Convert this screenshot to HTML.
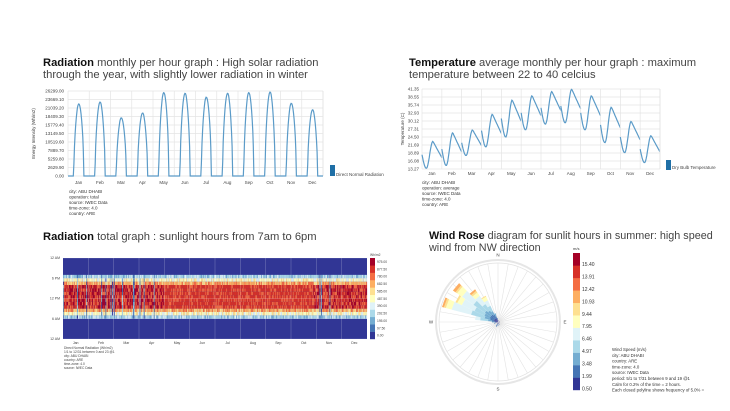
<!DOCTYPE html><html><head><meta charset="utf-8"><style>
body{margin:0;background:#fff;width:730px;height:411px;overflow:hidden;font-family:"Liberation Sans",sans-serif}
.t{position:absolute;font-size:11.2px;color:#444;line-height:12px;white-space:nowrap}
.t b{color:#111}
</style></head><body>
<div class="t" style="left:43px;top:57px"><b>Radiation</b> monthly per hour graph : High solar radiation<br>through the year, with slightly lower radiation in winter</div>
<div class="t" style="left:409px;top:57px"><b>Temperature</b> average monthly per hour graph : maximum<br>temperature between 22 to 40 celcius</div>
<div class="t" style="left:43px;top:231px"><b>Radiation</b> total graph : sunlight hours from 7am to 6pm</div>
<div class="t" style="left:429px;top:230px;font-size:10.8px"><b>Wind Rose</b> diagram for sunlit hours in summer: high speed<br>wind from NW direction</div>
<svg id="s" width="730" height="411" style="position:absolute;left:0;top:0" font-family="Liberation Sans, sans-serif"></svg>
<script>
const S=document.getElementById('s');let h='';
const M=['Jan','Feb','Mar','Apr','May','Jun','Jul','Aug','Sep','Oct','Nov','Dec'];
{const x0=68,x1=323,y0=91,y1=176;const labs=['26299.00','23669.10','21039.20','18409.30','15779.40','13149.50','10519.60','7889.70','5259.80','2629.90','0.00'];
for(let i=0;i<=10;i++){const y=y0+(y1-y0)*i/10;h+=`<line x1="${x0}" x2="${x1}" y1="${y}" y2="${y}" stroke="#e4e4e4" stroke-width="0.7"/><text x="${x0-4}" y="${y+1.5}" font-size="4.5" text-anchor="end" fill="#444">${labs[i]}</text>`;}
const w=(x1-x0)/12;const pk=[22.3,22.9,18,19.5,25.8,25.6,24.4,25.6,25.8,26,22.5,20.5];let d='';
for(let m=0;m<12;m++){const a=x0+m*w;h+=`<line x1="${a}" x2="${a}" y1="${y0}" y2="${y1}" stroke="#e4e4e4" stroke-width="0.7"/><text x="${a+w/2}" y="${y1+8}" font-size="4.5" text-anchor="middle" fill="#444">${M[m]}</text>`;
for(let k=0;k<=36;k++){const t=k/36;let v=0;if(t>0.27&&t<0.75){v=Math.pow(Math.sin(Math.PI*(t-0.27)/0.48),0.6)}const y=y1-(y1-y0)*v*pk[m]/26.3;d+=(d?'L':'M')+(a+t*w).toFixed(1)+','+y.toFixed(1);}}
h+=`<line x1="${x1}" x2="${x1}" y1="${y0}" y2="${y1}" stroke="#e4e4e4"/><path d="${d}" fill="none" stroke="#5b9bc8" stroke-width="1.2"/>`;
h+=`<text transform="translate(35,${(y0+y1)/2}) rotate(-90)" font-size="4.5" text-anchor="middle" fill="#444">Energy Intensity (Wh/m2)</text>`;
h+=`<rect x="330" y="165" width="5" height="11" fill="#1f6fa6"/><text x="336" y="176" font-size="4.5" fill="#444">Direct Normal Radiation</text>`;
['city: ABU DHABI','operation: total','source: IWEC Data','time-zone: 4.0','country: ARE'].forEach((s,i)=>h+=`<text x="69" y="${193+i*5.5}" font-size="4.5" fill="#333">${s}</text>`);}
{const x0=422,x1=660,y0=89,y1=169;const labs=['41.35','38.55','35.74','32.93','30.12','27.31','24.50','21.69','18.89','16.08','13.27'];
for(let i=0;i<=10;i++){const y=y0+(y1-y0)*i/10;h+=`<line x1="${x0}" x2="${x1}" y1="${y}" y2="${y}" stroke="#e4e4e4" stroke-width="0.7"/><text x="${x0-3}" y="${y+1.5}" font-size="4.5" text-anchor="end" fill="#444">${labs[i]}</text>`;}
const w=(x1-x0)/12;const mn=[13.5,14.5,18,21,24.5,27,29,29.5,27,22.5,19,15.5],mx=[23,26,27,32.5,37.5,39,40.5,41.3,39,35,30,25];
const f=v=>y1-(y1-y0)*(v-13.27)/(41.35-13.27);
for(let m=0;m<12;m++){const a=x0+m*w;h+=`<line x1="${a}" x2="${a}" y1="${y0}" y2="${y1}" stroke="#e4e4e4" stroke-width="0.7"/><text x="${a+w/2}" y="${y1+6}" font-size="4.5" text-anchor="middle" fill="#444">${M[m]}</text>`;
let d='';const md=(mn[m]+mx[m])/2;for(let k=0;k<=30;k++){const t=k/30;let v;if(t<0.22)v=md-(md-mn[m])*Math.sin(Math.PI/2*t/0.22);else if(t<0.55)v=mn[m]+(mx[m]-mn[m])*(1-Math.cos(Math.PI*(t-0.22)/0.33))/2;else v=mx[m]-(mx[m]-md+1)*(t-0.55)/0.45;d+=(d?'L':'M')+(a+t*w).toFixed(1)+','+f(v).toFixed(1);}
h+=`<path d="${d}" fill="none" stroke="#5b9bc8" stroke-width="1.2"/>`;}
h+=`<line x1="${x1}" x2="${x1}" y1="${y0}" y2="${y1}" stroke="#e4e4e4"/><text transform="translate(404,${(y0+y1)/2}) rotate(-90)" font-size="4.5" text-anchor="middle" fill="#444">Temperature (C)</text>`;
h+=`<rect x="666" y="160" width="5" height="10" fill="#1f6fa6"/><text x="672" y="169" font-size="4.5" fill="#444">Dry Bulb Temperature</text>`;
['city: ABU DHABI','operation: average','source: IWEC Data','time-zone: 4.0','country: ARE'].forEach((s,i)=>h+=`<text x="422" y="${184+i*5.5}" font-size="4.5" fill="#333">${s}</text>`);}
{const x0=63,x1=367,y0=258,y1=339;const ph=(y1-y0)/24,pw=(x1-x0)/365;h+=`<rect x="${x0}" y="${y0}" width="${x1-x0}" height="${y1-y0}" fill="#313695"/>`;
const cols=['#313695','#4575b4','#74add1','#abd9e9','#e0f3f8','#ffffbf','#fee090','#fdae61','#f46d43','#d73027','#a50026'];
let r=7;const rnd=()=>{r=(r*16807)%2147483647;return r/2147483647};
for(let d=0;d<365;d++){const cloudy=(d<120&&rnd()<0.12)||(d>300&&rnd()<0.06);for(let hr=6;hr<19;hr++){let v;const e=Math.min(hr-6,18-hr);if(e<=0)v=2+rnd()*2;else if(e==1)v=4+rnd()*2;else if(e==2)v=6+rnd()*2;else v=7.5+rnd()*3;if(cloudy)v=rnd()*3;if(d>120&&d<300&&e>2)v=Math.min(v,8.5+rnd());
h+=`<rect x="${(x0+d*pw).toFixed(2)}" y="${(y1-(hr+1)*ph).toFixed(2)}" width="${(pw+0.1).toFixed(2)}" height="${ph.toFixed(2)}" fill="${cols[Math.max(0,Math.min(10,Math.round(v)))]}"/>`;}}
for(let m=1;m<12;m++){const a=x0+m*(x1-x0)/12;h+=`<line x1="${a}" x2="${a}" y1="${y0}" y2="${y1}" stroke="#fff" stroke-opacity="0.35" stroke-width="0.5"/>`;}
['12 AM','6 PM','12 PM','6 AM','12 AM'].forEach((s,i)=>{const y=y0+(y1-y0)*i/4;h+=`<line x1="${x0}" x2="${x1}" y1="${y}" y2="${y}" stroke="#fff" stroke-opacity="0.35" stroke-width="0.5"/><text x="${x0-3}" y="${y+1.2}" font-size="3.5" text-anchor="end" fill="#444">${s}</text>`});
M.forEach((s,m)=>h+=`<text x="${x0+(m+.5)*(x1-x0)/12}" y="${y1+5}" font-size="3.5" text-anchor="middle" fill="#444">${s}</text>`);
const labs=['0.00','97.50','195.00','292.50','390.00','487.50','585.00','682.50','780.00','877.50','975.00'];
for(let i=0;i<11;i++){const y=y1-(i+1)*(y1-y0)/11;h+=`<rect x="370" y="${y}" width="5" height="${(y1-y0)/11+0.2}" fill="${cols[i]}"/><text x="377" y="${y+5}" font-size="3.3" fill="#444">${labs[i]}</text>`;}
h+=`<text x="370" y="256" font-size="3.3" fill="#444">Wh/m2</text>`;
['Direct Normal Radiation (Wh/m2)','1/1 to 12/31 between 0 and 23 @1','city: ABU DHABI','country: ARE','time-zone: 4.0','source: IWEC Data'].forEach((s,i)=>h+=`<text x="64" y="${349+i*4}" font-size="3.3" fill="#444">${s}</text>`);}
{const cx=498,cy=322,R=59;h+=`<circle cx="${cx}" cy="${cy}" r="${R+3}" fill="none" stroke="#e6e6e6" stroke-width="2"/><circle cx="${cx}" cy="${cy}" r="${R}" fill="none" stroke="#e0e0e0" stroke-width="0.7"/>`;
for(let i=0;i<36;i++){const a=i*10*Math.PI/180;h+=`<line x1="${cx}" y1="${cy}" x2="${cx+R*Math.sin(a)}" y2="${cy-R*Math.cos(a)}" stroke="#e2e2e2" stroke-width="0.6"/>`;}
const cols=['#313695','#4575b4','#74add1','#abd9e9','#e0f3f8','#ffffbf','#fee090','#fdae61','#f46d43','#d73027','#a50026'];
const wedge=(a1,a2,r1,r2,c)=>{const p=(a,r)=>(cx+r*Math.sin(a*Math.PI/180)).toFixed(1)+','+(cy-r*Math.cos(a*Math.PI/180)).toFixed(1);h+=`<path d="M${p(a1,r1)}L${p(a1,r2)}L${p(a2,r2)}L${p(a2,r1)}Z" fill="${c}"/>`;};
const data={290:[4,8,14,28,48,54,56,58],300:[4,9,15,26,40,45,47],310:[4,9,16,30,44,50,52,55],320:[4,9,14,22,32,36,38,40],330:[4,8,12,18,24,28,29],280:[3,6,10,18,23],270:[2,4,6],250:[2,4],200:[2,5],340:[3,6,9],350:[2,4],10:[2],90:[2],150:[2,3],180:[2,4]};
for(const k in data){const a=+k;let r0=0;data[k].forEach((r,i)=>{wedge(a-5,a+5,r0,r,cols[i]);r0=r;});}
[['N',0],['E',90],['S',180],['W',270]].forEach(([s,a])=>{const r=R+8;h+=`<text x="${cx+r*Math.sin(a*Math.PI/180)}" y="${cy-r*Math.cos(a*Math.PI/180)+1.5}" font-size="4.5" text-anchor="middle" fill="#444">${s}</text>`});
const labs=['0.50','1.99','3.48','4.97','6.46','7.95','9.44','10.93','12.42','13.91','15.40'];const y0=253,y1=390,hh=(y1-y0)/11;
for(let i=0;i<11;i++){h+=`<rect x="573" y="${y1-(i+1)*hh}" width="7" height="${hh+0.2}" fill="${cols[i]}"/><text x="582" y="${y1-i*hh+0.5}" font-size="5" fill="#333">${labs[i]}</text>`;}
h+=`<text x="573" y="250" font-size="4" fill="#333">m/s</text>`;
['Wind Speed (m/s)','city: ABU DHABI','country: ARE','time-zone: 4.0','source: IWEC Data','period: 5/1 to 7/31 between 9 and 19 @1','Calm for 0.2% of the time = 2 hours.','Each closed polyline shows frequency of 5.0% ='].forEach((s,i)=>h+=`<text x="612" y="${351+i*5.8}" font-size="4.3" fill="#333">${s}</text>`);}
S.innerHTML=h;
</script></body></html>
